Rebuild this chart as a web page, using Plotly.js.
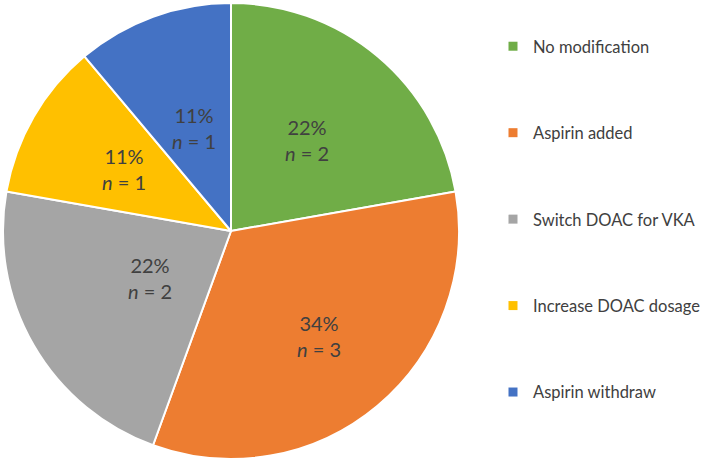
<!DOCTYPE html>
<html>
<head>
<meta charset="utf-8">
<script src="https://cdn.plot.ly/plotly-3.0.1.min.js"></script>
<style>html,body{margin:0;padding:0;background:#fff;}#chart{width:709px;height:462px;}</style>
</head>
<body>
<div id="chart"></div>
<script>
const categories = ["No modification", "Aspirin added", "Switch DOAC for VKA", "Increase DOAC dosage", "Aspirin withdraw"];
const counts = [2, 3, 2, 1, 1];
const percentLabels = ["22%", "34%", "22%", "11%", "11%"];
const colors = ["#70AD47", "#ED7D31", "#A5A5A5", "#FFC000", "#4472C4"];

const W = 709, H = 462;
const pieCx = 231, pieCy = 231, pieR = 228;
const labelRadius = [0.52, 0.6, 0.41, 0.54, 0.48];

const sliceText = counts.map((n, i) => percentLabels[i] + "<br><i>n</i> = " + n);

const pieTrace = {
  type: "pie",
  values: counts,
  labels: categories,
  textinfo: "none",
  sort: false,
  direction: "clockwise",
  rotation: 0,
  marker: { colors: colors, line: { color: "#ffffff", width: 2 } },
  hoverinfo: "none",
  showlegend: false,
  domain: { x: [(pieCx - pieR) / W, (pieCx + pieR) / W], y: [1 - (pieCy + pieR) / H, 1 - (pieCy - pieR) / H] }
};

// label positions derived from slice mid-angles (clockwise from 12 o'clock)
const total = counts.reduce((a, b) => a + b, 0);
let cum = 0;
const annotations = counts.map((v, i) => {
  const mid = (cum + v / 2) / total * 2 * Math.PI;
  cum += v;
  const r = labelRadius[i] * pieR;
  return {
    xref: "paper", yref: "paper",
    x: (pieCx + r * Math.sin(mid)) / W,
    y: 1 - (pieCy - r * Math.cos(mid)) / H,
    text: sliceText[i],
    showarrow: false,
    xanchor: "center", yanchor: "middle",
    font: { family: "Lato, 'Liberation Sans', sans-serif", size: 20, color: "#404040" }
  };
});

const legendTraces = categories.map((name, i) => ({
  type: "scatter",
  mode: "markers",
  x: [null],
  y: [null],
  name: name,
  legendgroup: "g" + i,
  marker: { symbol: "square", size: 9, color: colors[i] },
  hoverinfo: "none",
  showlegend: true
}));

const layout = {
  width: W,
  height: H,
  margin: { l: 0, r: 0, t: 0, b: 0 },
  paper_bgcolor: "#ffffff",
  plot_bgcolor: "rgba(0,0,0,0)",
  showlegend: true,
  annotations: annotations,
  xaxis: { visible: false, domain: [0.99, 1] },
  yaxis: { visible: false, domain: [0.99, 1] },
  legend: {
    x: 493 / W,
    xanchor: "left",
    y: 1 - 29 / H,
    yanchor: "top",
    tracegroupgap: 62,
    font: { family: "Lato, 'Liberation Sans', sans-serif", size: 16.5, color: "#404040" },
    bgcolor: "rgba(0,0,0,0)"
  }
};

Plotly.newPlot("chart", [pieTrace].concat(legendTraces), layout, { displayModeBar: false, staticPlot: true });
</script>
</body>
</html>
